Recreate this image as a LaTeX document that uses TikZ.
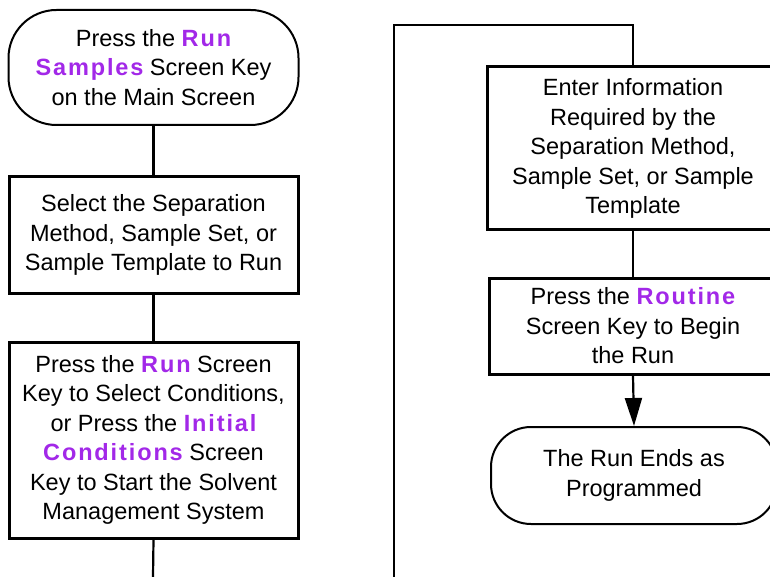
\documentclass[tikz,border=0pt]{standalone}
\usepackage{fontspec}
\setmainfont{Liberation Sans}
\usetikzlibrary{arrows.meta}
\definecolor{keypurple}{RGB}{162,40,232}
% screen-key names: bold, purple, slightly letter-spaced
\newcommand{\keyname}[1]{{\color{keypurple}\bfseries\addfontfeature{LetterSpace=8}#1}}
\begin{document}
\begin{tikzpicture}[x=1pt,y=-1pt,
  every node/.style={font=\fontsize{23.5}{29.5}\selectfont, align=center, inner sep=0pt},
  procbox/.style={draw, line width=3pt},
  terminal/.style={draw, line width=2pt},
  link/.style={line width=2.2pt}]
\clip (0,0) rectangle (770,577);

% left column
\node[terminal, rounded corners=48pt, minimum width=290pt, minimum height=115pt] (start) at (153.5,67.5)
  {Press the \keyname{Run}\\ \keyname{Samples} Screen Key\\ on the Main Screen};
\node[procbox, minimum width=289pt, minimum height=116pt] (select) at (153.5,235)
  {Select the Separation\\ Method, Sample Set, or\\ Sample Template to Run};
\node[procbox, minimum width=289pt, minimum height=196pt] (press) at (153.5,440)
  {Press the \keyname{Run} Screen\\ Key to Select Conditions,\\ or Press the \keyname{Initial}\\ \keyname{Conditions} Screen\\ Key to Start the Solvent\\ Management System};

% right column
\node[procbox, minimum width=292pt, minimum height=163pt] (enter) at (633,148.5)
  {Enter Information\\ Required by the\\ Separation Method,\\ Sample Set, or Sample\\ Template};
\node[procbox, minimum width=288pt, minimum height=96pt] (routine) at (633,326)
  {Press the \keyname{Routine}\\ Screen Key to Begin\\ the Run};
\node[terminal, rounded corners=40pt, minimum width=286pt, minimum height=97pt] (ends) at (634,475.5)
  {The Run Ends as\\ Programmed};

% connectors
\coordinate (leftexit) at (153,577);
\coordinate (rightentry) at (394,577);
\coordinate (bend) at (394,25);
\draw[link] (start.south) -- (select.north);
\draw[link] (select.south) -- (press.north);
\draw[link] (press.south) -- (leftexit);
\draw[link] (rightentry) -- (bend) -| (enter.north);
\draw[link] (enter.south) -- (routine.north);
\draw[link, -{Triangle[length=28pt,width=17pt]}] (routine.south) -- (ends.north);
\end{tikzpicture}
\end{document}
